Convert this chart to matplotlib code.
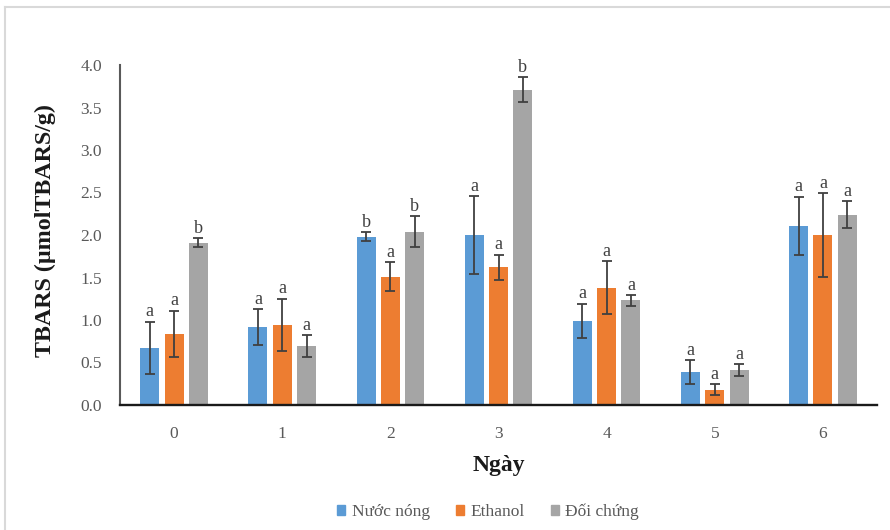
import matplotlib
matplotlib.use("Agg")
import matplotlib.pyplot as plt
from matplotlib.lines import Line2D
import numpy as np

# Days of storage
days = ["0", "1", "2", "3", "4", "5", "6"]

# TBARS (µmol TBARS/g) means and standard deviations per treatment
nuoc_nong = [0.67, 0.92, 1.98, 2.00, 0.99, 0.39, 2.11]
nuoc_nong_sd = [0.31, 0.21, 0.05, 0.46, 0.20, 0.14, 0.34]
ethanol = [0.84, 0.94, 1.51, 1.62, 1.38, 0.18, 2.00]
ethanol_sd = [0.27, 0.31, 0.17, 0.15, 0.31, 0.065, 0.49]
doi_chung = [1.91, 0.69, 2.04, 3.71, 1.23, 0.41, 2.24]
doi_chung_sd = [0.05, 0.13, 0.18, 0.15, 0.06, 0.07, 0.16]

# Significance letters
nuoc_nong_sig = ["a", "a", "b", "a", "a", "a", "a"]
ethanol_sig = ["a", "a", "a", "a", "a", "a", "a"]
doi_chung_sig = ["b", "a", "b", "b", "a", "a", "a"]

series_names = ["Nước nóng", "Ethanol", "Đối chứng"]
colors = ["#5B9BD5", "#ED7D31", "#A5A5A5"]

plt.rcParams["font.family"] = ["Liberation Serif", "DejaVu Serif"]

fig = plt.figure(figsize=(8.9, 5.3), dpi=100)
ax = fig.add_axes([120 / 890, 125 / 530, 757 / 890, 340 / 530])

x = np.arange(len(days))
width = 0.176
step = 0.225
series = [
    (nuoc_nong, nuoc_nong_sd, nuoc_nong_sig),
    (ethanol, ethanol_sd, ethanol_sig),
    (doi_chung, doi_chung_sd, doi_chung_sig),
]

for i, (vals, sd, sig) in enumerate(series):
    pos = x + (i - 1) * step
    ax.bar(pos, vals, width, color=colors[i], label=series_names[i], zorder=2)
    ax.errorbar(pos, vals, yerr=sd, fmt="none", ecolor="#404040",
                elinewidth=1.3, capsize=3.8, capthick=1.3, zorder=3)
    for px, v, s, t in zip(pos, vals, sd, sig):
        ax.annotate(t, (px, v + s), xytext=(0, 1), textcoords="offset points",
                    ha="center", va="bottom", fontsize=13, color="#404040")

ax.set_xlim(-0.5, len(days) - 0.5)
ax.set_ylim(0, 4.0)
ax.set_yticks(np.arange(0, 4.01, 0.5))
ax.set_yticklabels([f"{v:.1f}" for v in np.arange(0, 4.01, 0.5)])
ax.set_xticks(x)
ax.set_xticklabels(days)
ax.tick_params(axis="y", length=0, pad=13, labelsize=12.5, labelcolor="#595959")
ax.tick_params(axis="x", length=0, pad=15, labelsize=12.5, labelcolor="#595959")

for side in ["top", "right"]:
    ax.spines[side].set_visible(False)
ax.spines["left"].set_color("#595959")
ax.spines["left"].set_linewidth(1.5)
ax.spines["bottom"].set_color("#1a1a1a")
ax.spines["bottom"].set_linewidth(1.7)

fig.text(45 / 890, 1 - 231 / 530, "TBARS (µmolTBARS/g)", rotation=90,
         ha="center", va="center", fontsize=17.3, fontweight="bold", color="#1a1a1a")
fig.text(499 / 890, 1 - 465 / 530, "Ngày", ha="center", va="center",
         fontsize=17, fontweight="bold", color="#1a1a1a")

handles = [plt.Rectangle((0, 0), 1, 1, color=c) for c in colors]
fig.legend(handles, series_names, loc="center", ncol=3,
           bbox_to_anchor=(488 / 890, 18 / 530), frameon=False,
           fontsize=12.5, labelcolor="#595959", handlelength=0.5,
           handleheight=0.5, handletextpad=0.35, columnspacing=1.5)

# Page frame around the chart
frame_kw = dict(color="#d9d9d9", linewidth=1.5, transform=fig.transFigure)
fig.add_artist(Line2D([5 / 890, 1], [1 - 7 / 530, 1 - 7 / 530], **frame_kw))
fig.add_artist(Line2D([5 / 890, 5 / 890], [0, 1 - 7 / 530], **frame_kw))

fig.savefig("out.png", dpi=100)
